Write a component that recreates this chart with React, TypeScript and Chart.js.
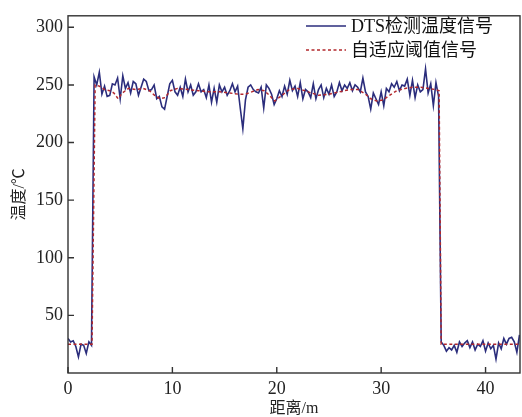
import React, { useEffect, useRef } from "react";
import { Chart, registerables } from "chart.js";

Chart.register(...registerables);

// Distance step of the DTS samples (m)
const distanceStep = 0.25;

// DTS measured temperature (°C), one row per metre
const dtsTemperature = [
  30, 27, 28, 23,
  14, 25, 24, 17,
  27, 24, 257, 250,
  261, 242, 249, 240,
  241, 251, 250, 256,
  238, 258, 247, 252,
  243, 253, 251, 241,
  248, 255, 253, 245,
  246, 250, 238, 240,
  231, 229, 240, 251,
  254, 244, 241, 248,
  240, 255, 244, 250,
  241, 244, 251, 244,
  246, 239, 250, 235,
  247, 235, 250, 244,
  248, 241, 245, 251,
  244, 249, 230, 212,
  237, 248, 250, 246,
  244, 243, 248, 230,
  250, 247, 242, 233,
  238, 245, 240, 249,
  242, 254, 245, 249,
  240, 252, 238, 246,
  244, 239, 251, 238,
  246, 250, 239, 247,
  242, 250, 240, 244,
  252, 245, 250, 247,
  252, 245, 250, 248,
  244, 256, 244, 240,
  229, 243, 238, 233,
  244, 232, 247, 244,
  251, 248, 253, 245,
  250, 249, 255, 241,
  254, 239, 250, 244,
  246, 264, 243, 251,
  232, 252, 240, 27,
  24, 19, 22, 20,
  24, 18, 27, 23,
  26, 28, 22, 27,
  20, 25, 23, 28,
  19, 26, 21, 24,
  12, 26, 21, 30,
  25, 30, 31, 27,
  18, 33,
];

// Adaptive threshold signal
const thresholdX = [
  0, 2.3, 2.6, 3.0, 3.5, 4.0, 4.4, 4.8, 5.2, 5.8, 6.5, 7.2, 7.8, 8.3, 8.8, 9.3, 9.8,
  10.5, 11.5, 12.5, 13.5, 14.5, 15.5, 16.3, 17.0, 17.6, 18.2, 18.8, 19.3, 19.8,
  20.5, 21.2, 22.0, 23.0, 24.0, 25.0, 26.0, 27.0, 27.8, 28.5, 29.0, 29.6, 30.2,
  30.8, 31.5, 32.3, 33.0, 33.8, 34.5, 35.2, 35.55, 35.75, 43.3,
];
const thresholdY = [
  25, 25, 250, 249, 246, 245, 243, 238, 243, 247, 246, 247, 245, 241, 238, 239, 245,
  247, 246, 245, 244, 244, 243, 242, 242, 244, 246, 245, 241, 236,
  241, 246, 247, 244, 241, 242, 244, 246, 246, 242, 238, 236, 237,
  241, 245, 247, 248, 248, 247, 246, 245, 25, 25,
];

const xTicks = [0, 10, 20, 30, 40];
const yTicks = [50, 100, 150, 200, 250, 300];

const seriesNames = ["DTS检测温度信号", "自适应阈值信号"];
const xTitle = "距离/m";
const yTitle = "温度/℃";

const FONT_FAMILY = '"Liberation Serif", "Noto Sans CJK SC", serif';
const BLUE = "#2b2d7c";
const RED = "#b3282d";
const AXIS = "#333333";

const framePlugin = {
  id: "frameTicksLegend",
  afterDraw(chart: any) {
    const { ctx, chartArea } = chart;
    const { left, right, top, bottom } = chartArea;
    const xs = chart.scales.x;
    const ys = chart.scales.y;
    ctx.save();
    ctx.strokeStyle = AXIS;
    ctx.lineWidth = 1.4;
    ctx.strokeRect(left, top, right - left, bottom - top);
    ctx.beginPath();
    for (const v of xTicks) {
      const px = xs.getPixelForValue(v);
      ctx.moveTo(px, bottom);
      ctx.lineTo(px, bottom - 6);
    }
    for (const v of yTicks) {
      const py = ys.getPixelForValue(v);
      ctx.moveTo(left, py);
      ctx.lineTo(left + 6, py);
    }
    ctx.stroke();

    // legend
    const ds = chart.data.datasets;
    const rows = [
      { y: 26, ds: ds[0] },
      { y: 50, ds: ds[1] },
    ];
    ctx.font = `18px ${FONT_FAMILY}`;
    ctx.textBaseline = "middle";
    ctx.textAlign = "left";
    for (const r of rows) {
      ctx.beginPath();
      ctx.strokeStyle = r.ds.borderColor;
      ctx.lineWidth = 1.5;
      ctx.setLineDash(r.ds.borderDash || []);
      ctx.moveTo(306, r.y);
      ctx.lineTo(346, r.y);
      ctx.stroke();
      ctx.setLineDash([]);
      ctx.fillStyle = "#111";
      ctx.fillText(r.ds.label, 351, r.y + 1);
    }
    ctx.restore();
  },
};

export default function App() {
  const ref = useRef<HTMLCanvasElement>(null);
  useEffect(() => {
    if (!ref.current) return;
    const blueData = dtsTemperature.map((v, i) => ({ x: i * distanceStep, y: v }));
    const redData = thresholdX.map((x, i) => ({ x, y: thresholdY[i] }));
    const tickFont = { family: FONT_FAMILY, size: 18 };
    const chart = new Chart(ref.current, {
      type: "line",
      data: {
        datasets: [
          {
            label: seriesNames[0],
            data: blueData,
            borderColor: BLUE,
            borderWidth: 1.6,
            pointRadius: 0,
            tension: 0,
            order: 1,
          },
          {
            label: seriesNames[1],
            data: redData,
            borderColor: RED,
            borderWidth: 1.5,
            borderDash: [3, 2.5],
            pointRadius: 0,
            tension: 0,
            order: 0,
          },
        ],
      },
      options: {
        responsive: false,
        animation: false,
        layout: { padding: { left: 0, right: 2, top: 11, bottom: 0 } },
        plugins: { legend: { display: false }, tooltip: { enabled: false } },
        scales: {
          x: {
            type: "linear",
            min: 0,
            max: 43.3,
            afterBuildTicks: (s: any) => {
              s.ticks = xTicks.map((v) => ({ value: v }));
            },
            afterFit: (s: any) => {
              s.height = 44;
            },
            grid: { display: false, drawTicks: false },
            border: { display: false },
            ticks: { font: tickFont, color: "#222", padding: 5, maxRotation: 0, autoSkip: false },
            title: {
              display: true,
              text: xTitle,
              font: { family: FONT_FAMILY, size: 16, lineHeight: 1 },
              color: "#222",
              padding: { top: -2, bottom: 0 },
            },
          },
          y: {
            type: "linear",
            min: 0,
            max: 310,
            afterBuildTicks: (s: any) => {
              s.ticks = yTicks.map((v) => ({ value: v }));
            },
            afterFit: (s: any) => {
              s.width = 68;
            },
            grid: { display: false, drawTicks: false },
            border: { display: false },
            ticks: { font: tickFont, color: "#222", padding: 5, autoSkip: false },
            title: {
              display: true,
              text: yTitle,
              font: { family: FONT_FAMILY, size: 16, lineHeight: 1.2 },
              color: "#222",
              padding: { top: 10, bottom: 0 },
            },
          },
        },
      },
      plugins: [framePlugin],
    });
    return () => chart.destroy();
  }, []);
  return (
    <div style={{ position: "fixed", left: 0, top: 0, width: 522, height: 417, background: "#fff" }}>
      <canvas ref={ref} width={522} height={417} />
    </div>
  );
}
